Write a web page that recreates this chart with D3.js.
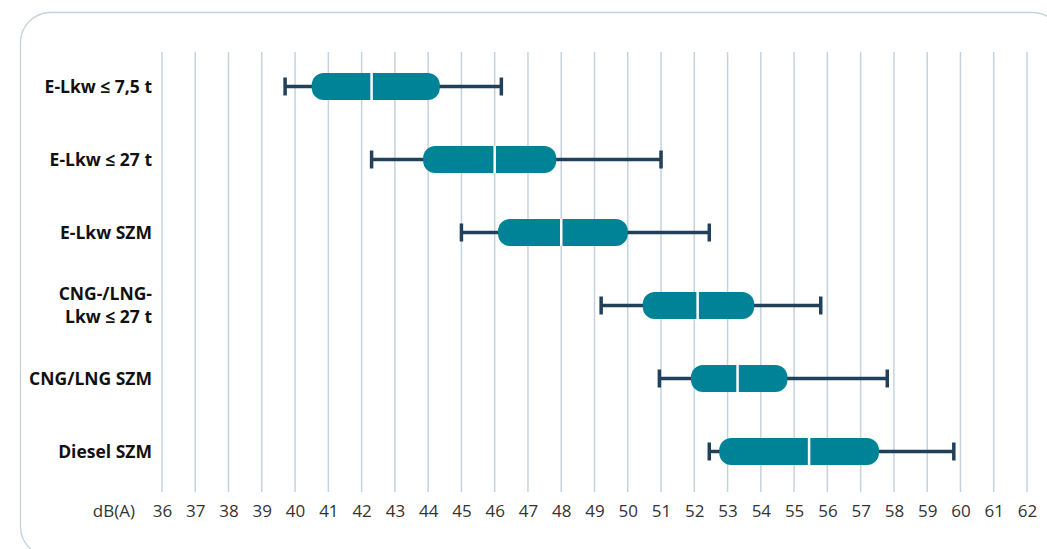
<!DOCTYPE html>
<html>
<head>
<meta charset="utf-8">
<script src="https://cdn.jsdelivr.net/npm/d3@7"></script>
<style>
  html, body { margin: 0; padding: 0; background: #ffffff; }
  svg { display: block; }
</style>
</head>
<body>
<svg id="chart" width="1047" height="549"></svg>
<script>
// Vehicle categories (top to bottom); "\n" splits a label over two lines
const categories = [
  "E-Lkw ≤ 7,5 t",
  "E-Lkw ≤ 27 t",
  "E-Lkw SZM",
  "CNG-/LNG-\nLkw ≤ 27 t",
  "CNG/LNG SZM",
  "Diesel SZM"
];
// Noise levels in dB(A)
const whiskerLow  = [39.7, 42.3, 45.0, 49.2, 50.95, 52.45];
const boxLow      = [40.5, 43.85, 46.1, 50.45, 51.9, 52.75];
const median      = [42.3, 46.0, 48.0, 52.1, 53.3, 55.45];
const boxHigh     = [44.35, 47.85, 50.0, 53.8, 54.8, 57.55];
const whiskerHigh = [46.2, 51.0, 52.45, 55.8, 57.8, 59.8];
const tickValues  = d3.range(36, 63);
const unitLabel   = "dB(A)";

const rows = categories.map((c, i) => ({
  cat: c, wl: whiskerLow[i], q1: boxLow[i], med: median[i], q3: boxHigh[i], wh: whiskerHigh[i]
}));

const svg = d3.select("#chart");
const font = "'Open Sans', 'Noto Sans', sans-serif";

// Rounded frame
svg.append("rect")
  .attr("x", 20.5).attr("y", 12.5)
  .attr("width", 1042).attr("height", 544)
  .attr("rx", 30).attr("ry", 30)
  .attr("fill", "none")
  .attr("stroke", "#c3d2dd")
  .attr("stroke-width", 1.3);

const x = d3.scaleLinear().domain([36, 62]).range([162, 1027]);
const y = d3.scaleBand().domain(categories).range([50, 488]).paddingInner(0).paddingOuter(0);

const gridTop = 52, gridBottom = 492;

// Vertical grid lines
svg.append("g")
  .selectAll("line")
  .data(tickValues)
  .join("line")
  .attr("x1", d => x(d)).attr("x2", d => x(d))
  .attr("y1", gridTop).attr("y2", gridBottom)
  .attr("stroke", "#c5d3de")
  .attr("stroke-width", 1.5);

// Bottom axis: tick labels only
const axis = d3.axisBottom(x).tickValues(tickValues).tickSize(0).tickPadding(0).tickFormat(d3.format("d"));
const axisG = svg.append("g")
  .attr("transform", `translate(0, ${gridBottom + 25})`)
  .call(axis);
axisG.select(".domain").remove();
axisG.selectAll("text")
  .attr("dy", 0)
  .attr("font-family", font)
  .attr("font-size", 17)
  .attr("fill", "#333333");

svg.append("text")
  .attr("x", 135).attr("y", gridBottom + 25)
  .attr("text-anchor", "end")
  .attr("font-family", font)
  .attr("font-size", 17)
  .attr("fill", "#333333")
  .text(unitLabel);

// Category labels
const labelSize = 17.5;
const labels = svg.append("g")
  .selectAll("text")
  .data(rows)
  .join("text")
  .attr("x", 152)
  .attr("y", d => y(d.cat) + y.bandwidth() / 2)
  .attr("text-anchor", "end")
  .attr("font-family", font)
  .attr("font-weight", 700)
  .attr("font-size", labelSize)
  .attr("fill", "#111111");
labels.each(function(d) {
  const lines = d.cat.split("\n");
  const t = d3.select(this);
  const lh = 23;
  lines.forEach((ln, k) => {
    t.append("tspan")
      .attr("x", 152)
      .attr("dy", k === 0 ? (0.35 * labelSize - (lines.length - 1) * lh / 2) : lh)
      .text(ln);
  });
});

// Box plots
const boxH = 27, capH = 18;
const g = svg.append("g").selectAll("g").data(rows).join("g")
  .attr("transform", d => `translate(0, ${y(d.cat) + y.bandwidth() / 2})`);

g.append("line")
  .attr("x1", d => x(d.wl)).attr("x2", d => x(d.wh))
  .attr("y1", 0).attr("y2", 0)
  .attr("stroke", "#21405a").attr("stroke-width", 3.5);
g.append("line")
  .attr("x1", d => x(d.wl)).attr("x2", d => x(d.wl))
  .attr("y1", -capH / 2).attr("y2", capH / 2)
  .attr("stroke", "#21405a").attr("stroke-width", 3.5);
g.append("line")
  .attr("x1", d => x(d.wh)).attr("x2", d => x(d.wh))
  .attr("y1", -capH / 2).attr("y2", capH / 2)
  .attr("stroke", "#21405a").attr("stroke-width", 3.5);

g.append("rect")
  .attr("x", d => x(d.q1))
  .attr("y", -boxH / 2)
  .attr("width", d => x(d.q3) - x(d.q1))
  .attr("height", boxH)
  .attr("rx", 12).attr("ry", 12)
  .attr("fill", "#008396");

g.append("line")
  .attr("x1", d => x(d.med)).attr("x2", d => x(d.med))
  .attr("y1", -boxH / 2).attr("y2", boxH / 2)
  .attr("stroke", "#ffffff").attr("stroke-width", 2.5);
</script>
</body>
</html>
